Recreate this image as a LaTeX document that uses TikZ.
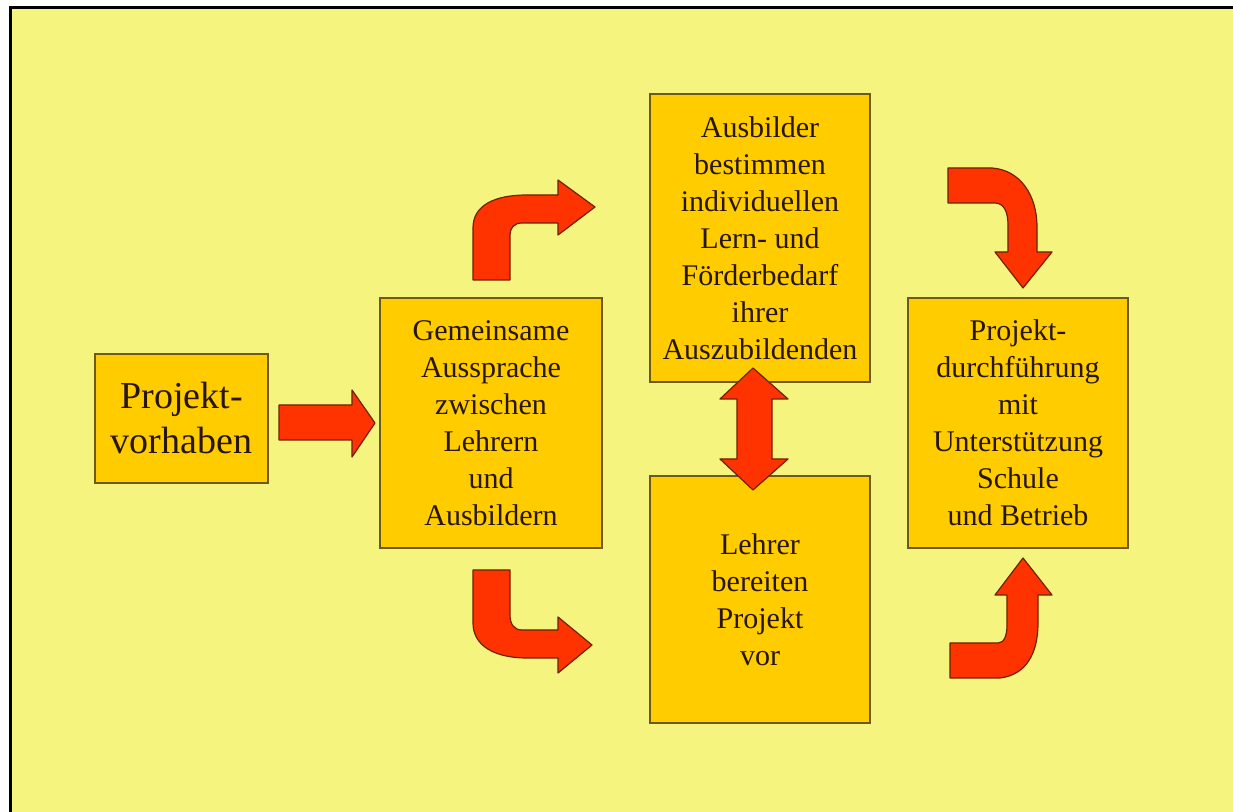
\documentclass[tikz,border=0pt]{standalone}
\usepackage{fontspec}
\setmainfont{Liberation Serif}

\definecolor{slide}{RGB}{244,244,126}
\definecolor{boxfill}{RGB}{255,204,0}
\definecolor{boxline}{RGB}{110,90,30}
\definecolor{arrowfill}{RGB}{255,51,0}
\definecolor{arrowline}{RGB}{110,35,0}
\definecolor{ink}{RGB}{40,22,0}

\begin{document}
\begin{tikzpicture}[x=0.5pt,y=-0.5pt,
  stepbox/.style={draw=boxline, fill=boxfill, line width=0.7pt, text=ink,
    align=center, inner sep=0pt, font=\fontsize{15}{18.5}\selectfont},
  blockarrow/.style={draw=arrowline, fill=arrowfill, line width=0.6pt, line join=round}]

\useasboundingbox (0,0) rectangle (1233,812);
\fill[slide] (10.5,7.5) rectangle (1233,812);
\draw[line width=1.5pt] (10.5,812) -- (10.5,7.5) -- (1233,7.5);

% the five steps
\path (181.5,418.5) node[stepbox, minimum width=86.5pt, minimum height=64.5pt,
  font=\fontsize{19}{22.5}\selectfont] (vorhaben) {Projekt-\\vorhaben};
\path (491,423) node[stepbox, minimum width=111pt, minimum height=125pt] (aussprache)
  {Gemeinsame\\Aussprache\\zwischen\\Lehrern\\und\\Ausbildern};
\path (760,238) node[stepbox, minimum width=110pt, minimum height=144pt] (ausbilder)
  {Ausbilder\\bestimmen\\individuellen\\Lern- und\\Förderbedarf\\ihrer\\Auszubildenden};
\path (760,599.5) node[stepbox, minimum width=110pt, minimum height=123.5pt] (lehrer)
  {Lehrer\\bereiten\\Projekt\\vor};
\path (1018,423) node[stepbox, minimum width=110pt, minimum height=125pt] (durchfuehrung)
  {Projekt-\\durchführung\\mit\\Unterstützung\\Schule\\und Betrieb};

% vorhaben -> aussprache
\draw[blockarrow] (279,405) -- (352,405) -- (352,390) -- (375,423) -- (352,457)
  -- (352,440) -- (279,440) -- cycle;

% aussprache -> ausbilder (bent up)
\draw[blockarrow] (473,280) -- (473,228) .. controls (473,205) and (495,195) .. (527,195)
  -- (558,195) -- (558,180) -- (595,207) -- (558,235) -- (558,223) -- (522,223)
  .. controls (514,223) and (510,228) .. (510,235) -- (510,280) -- cycle;

% aussprache -> lehrer (bent down)
\draw[blockarrow] (473,570) -- (473,623) .. controls (473,646) and (495,658) .. (527,658)
  -- (558,658) -- (558,673) -- (592,645) -- (558,617) -- (558,630) -- (522,630)
  .. controls (514,630) and (510,624) .. (510,615) -- (510,570) -- cycle;

% ausbilder <-> lehrer
\draw[blockarrow] (753,368) -- (788,399) -- (772,399) -- (772,459) -- (788,459)
  -- (753,490) -- (720,459) -- (737,459) -- (737,399) -- (720,399) -- cycle;

% ausbilder -> durchfuehrung
\draw[blockarrow] (948,168) -- (992,168) .. controls (1020,170) and (1037,195) .. (1037,227)
  -- (1037,252) -- (1052,252) -- (1023,288) -- (995,252) -- (1008,252) -- (1008,225)
  .. controls (1008,212) and (1004,203) .. (995,203) -- (948,203) -- cycle;

% lehrer -> durchfuehrung
\draw[blockarrow] (950,678) -- (1000,678) .. controls (1025,675) and (1038,655) .. (1038,623)
  -- (1038,595) -- (1052,595) -- (1023,558) -- (995,595) -- (1007,595) -- (1007,625)
  .. controls (1007,636) and (1004,643) .. (998,643) -- (950,643) -- cycle;

\end{tikzpicture}
\end{document}
